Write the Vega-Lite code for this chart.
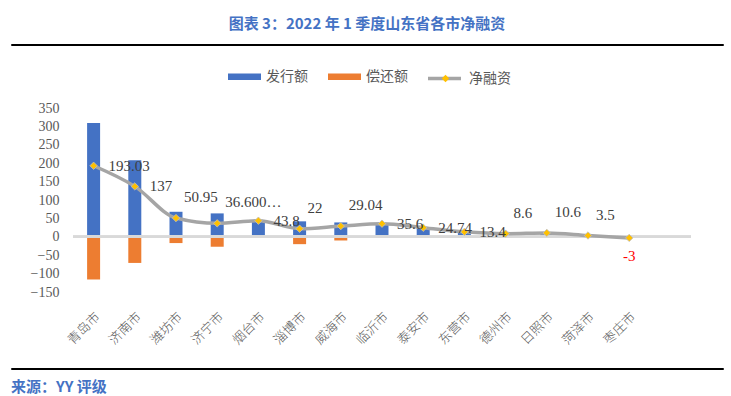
{
  "$schema": "https://vega.github.io/schema/vega-lite/v6.json",
  "background": "white",
  "padding": {"left": 10, "top": 16, "right": 0, "bottom": 0},
  "config": {"view": {"stroke": null}, "axis": {"labelOverlap": false}, "axisY": {"labelOverlap": false}, "axisQuantitative": {"labelOverlap": false}},
  "spacing": 20,
  "vconcat": [
    {
      "width": 712,
      "height": 1,
      "view": {"stroke": "#000000", "strokeWidth": 1},
      "title": {"text": "图表 3：2022 年 1 季度山东省各市净融资", "font": "Noto Sans CJK SC", "fontSize": 15, "fontWeight": "bold", "color": "#4472C4", "anchor": "middle", "offset": 12},
      "data": {"values": []},
      "mark": "text"
    },
    {
      "spacing": 0,
      "hconcat": [
        {
          "width": 1,
          "height": 1,
          "data": {"values": []},
          "mark": "text"
        },
        {
          "width": 618,
          "height": 184,
          "title": {"text": " ", "fontSize": 10, "offset": 25},
          "data": {"values": [
            {"城市": "青岛市", "发行额": 309.03, "偿还额": -116, "净融资": 193.03, "标签": "193.03"},
            {"城市": "济南市", "发行额": 208, "偿还额": -71, "净融资": 137, "标签": "137"},
            {"城市": "潍坊市", "发行额": 68, "偿还额": -17.05, "净融资": 50.95, "标签": "50.95"},
            {"城市": "济宁市", "发行额": 63.6, "偿还额": -27, "净融资": 36.6, "标签": "36.600…"},
            {"城市": "烟台市", "发行额": 43.8, "偿还额": 0, "净融资": 43.8, "标签": "43.8"},
            {"城市": "淄博市", "发行额": 42, "偿还额": -20, "净融资": 22, "标签": "22"},
            {"城市": "威海市", "发行额": 39.04, "偿还额": -10, "净融资": 29.04, "标签": "29.04"},
            {"城市": "临沂市", "发行额": 37, "偿还额": -1.4, "净融资": 35.6, "标签": "35.6"},
            {"城市": "泰安市", "发行额": 26, "偿还额": -1.26, "净融资": 24.74, "标签": "24.74"},
            {"城市": "东营市", "发行额": 14, "偿还额": -0.6, "净融资": 13.4, "标签": "13.4"},
            {"城市": "德州市", "发行额": 10.6, "偿还额": -2, "净融资": 8.6, "标签": "8.6"},
            {"城市": "日照市", "发行额": 10.6, "偿还额": 0, "净融资": 10.6, "标签": "10.6"},
            {"城市": "菏泽市", "发行额": 3.5, "偿还额": 0, "净融资": 3.5, "标签": "3.5"},
            {"城市": "枣庄市", "发行额": 0, "偿还额": -3, "净融资": -3, "标签": "-3"}
          ]},
          "layer": [
            {
              "transform": [{"fold": ["发行额", "偿还额"], "as": ["类型", "金额"]}],
              "mark": {"type": "bar", "size": 13},
              "encoding": {
                "x": {"field": "城市", "type": "nominal", "sort": null,
                  "scale": {"paddingInner": 0, "paddingOuter": 0.5, "align": 0},
                  "axis": {"title": null, "labelAngle": -45, "domain": false, "ticks": false, "grid": false,
                    "labelFont": "Noto Sans CJK SC", "labelFontSize": 13, "labelFontWeight": 300, "labelColor": "#595959", "labelPadding": 18}},
                "y": {"field": "金额", "type": "quantitative", "stack": null,
                  "scale": {"domain": [-150, 350], "nice": false},
                  "axis": {"title": null, "values": [-150, -100, -50, 0, 50, 100, 150, 200, 250, 300, 350],
                    "domain": false, "ticks": false, "grid": false, "labelOverlap": false,
                    "labelFont": "Liberation Serif", "labelFontSize": 14, "labelColor": "#595959", "labelPadding": 14,
                    "minExtent": 61, "maxExtent": 61}},
                "color": {"field": "类型", "type": "nominal",
                  "scale": {"domain": ["发行额", "偿还额"], "range": ["#4472C4", "#ED7D31"]},
                  "legend": {"title": null, "orient": "none", "legendX": 217, "legendY": 16, "direction": "horizontal",
                    "symbolType": "M-1,-0.2H1V0.2H-1Z", "symbolSize": 1089, "symbolStrokeWidth": 0,
                    "labelFont": "Noto Sans CJK SC", "labelFontSize": 14, "labelColor": "#595959",
                    "labelOffset": 5, "columnPadding": 20, "padding": 0}}
              }
            },
            {
              "mark": {"type": "rule", "color": "#D9D9D9", "strokeWidth": 2},
              "encoding": {
                "y": {"datum": 0, "type": "quantitative",
                  "scale": {"domain": [-150, 350], "nice": false},
                  "axis": {"title": null, "values": [-150, -100, -50, 0, 50, 100, 150, 200, 250, 300, 350],
                    "domain": false, "ticks": false, "grid": false, "labelOverlap": false,
                    "labelFont": "Liberation Serif", "labelFontSize": 14, "labelColor": "#595959", "labelPadding": 14,
                    "minExtent": 61, "maxExtent": 61}}
              }
            },
            {
              "mark": {"type": "line", "strokeWidth": 3.5, "interpolate": "monotone"},
              "encoding": {
                "x": {"field": "城市", "type": "nominal", "sort": null},
                "y": {"field": "净融资", "type": "quantitative",
                  "scale": {"domain": [-150, 350], "nice": false},
                  "axis": {"title": null, "values": [-150, -100, -50, 0, 50, 100, 150, 200, 250, 300, 350],
                    "domain": false, "ticks": false, "grid": false, "labelOverlap": false,
                    "labelFont": "Liberation Serif", "labelFontSize": 14, "labelColor": "#595959", "labelPadding": 14,
                    "minExtent": 61, "maxExtent": 61}},
                "stroke": {"datum": "净融资", "type": "nominal",
                  "scale": {"domain": ["净融资"], "range": ["#A5A5A5"]},
                  "legend": {"title": null, "orient": "none", "legendX": 415, "legendY": 16,
                    "symbolType": "stroke", "symbolSize": 1089, "symbolStrokeWidth": 3.5, "symbolStrokeColor": "#A5A5A5",
                    "labelFont": "Noto Sans CJK SC", "labelFontSize": 14, "labelColor": "#595959",
                    "labelOffset": 6, "padding": 0}}
              }
            },
            {
              "mark": {"type": "point", "filled": true, "fill": "#FFC000", "stroke": "#BFBFBF", "strokeWidth": 0.8, "opacity": 1, "size": 55},
              "encoding": {
                "x": {"field": "城市", "type": "nominal", "sort": null},
                "y": {"field": "净融资", "type": "quantitative",
                  "scale": {"domain": [-150, 350], "nice": false},
                  "axis": {"title": null, "values": [-150, -100, -50, 0, 50, 100, 150, 200, 250, 300, 350],
                    "domain": false, "ticks": false, "grid": false, "labelOverlap": false,
                    "labelFont": "Liberation Serif", "labelFontSize": 14, "labelColor": "#595959", "labelPadding": 14,
                    "minExtent": 61, "maxExtent": 61}},
                "shape": {"datum": "◆", "type": "nominal",
                  "scale": {"domain": ["◆"], "range": ["diamond"]},
                  "legend": {"title": null, "orient": "none", "legendX": 428, "legendY": 28,
                    "symbolSize": 55, "symbolFillColor": "#FFC000", "symbolStrokeColor": "#BFBFBF", "symbolStrokeWidth": 0.8,
                    "labelFont": "Noto Sans CJK SC", "labelFontSize": 13, "labelOpacity": 0,
                    "labelOffset": 5, "padding": 0}}
              }
            },
            {
              "transform": [{"filter": {"field": "城市", "oneOf": ["青岛市", "济南市", "烟台市", "临沂市", "泰安市", "东营市"]}}],
              "mark": {"type": "text", "align": "left", "baseline": "middle", "dx": 15, "font": "Liberation Serif", "fontSize": 15, "color": "#404040"},
              "encoding": {
                "x": {"field": "城市", "type": "nominal", "sort": null},
                "y": {"field": "净融资", "type": "quantitative",
                  "scale": {"domain": [-150, 350], "nice": false},
                  "axis": {"title": null, "values": [-150, -100, -50, 0, 50, 100, 150, 200, 250, 300, 350],
                    "domain": false, "ticks": false, "grid": false, "labelOverlap": false,
                    "labelFont": "Liberation Serif", "labelFontSize": 14, "labelColor": "#595959", "labelPadding": 14,
                    "minExtent": 61, "maxExtent": 61}},
                "text": {"field": "标签"}
              }
            },
            {
              "transform": [{"filter": {"field": "城市", "oneOf": ["潍坊市", "济宁市", "淄博市", "威海市", "德州市", "日照市", "菏泽市"]}}],
              "mark": {"type": "text", "align": "left", "baseline": "middle", "dx": 8, "dy": -21, "font": "Liberation Serif", "fontSize": 15, "color": "#404040"},
              "encoding": {
                "x": {"field": "城市", "type": "nominal", "sort": null},
                "y": {"field": "净融资", "type": "quantitative",
                  "scale": {"domain": [-150, 350], "nice": false},
                  "axis": {"title": null, "values": [-150, -100, -50, 0, 50, 100, 150, 200, 250, 300, 350],
                    "domain": false, "ticks": false, "grid": false, "labelOverlap": false,
                    "labelFont": "Liberation Serif", "labelFontSize": 14, "labelColor": "#595959", "labelPadding": 14,
                    "minExtent": 61, "maxExtent": 61}},
                "text": {"field": "标签"}
              }
            },
            {
              "transform": [{"filter": "datum['净融资'] < 0"}],
              "mark": {"type": "text", "align": "center", "baseline": "middle", "dy": 18, "font": "Liberation Serif", "fontSize": 15, "color": "#FF0000"},
              "encoding": {
                "x": {"field": "城市", "type": "nominal", "sort": null},
                "y": {"field": "净融资", "type": "quantitative",
                  "scale": {"domain": [-150, 350], "nice": false},
                  "axis": {"title": null, "values": [-150, -100, -50, 0, 50, 100, 150, 200, 250, 300, 350],
                    "domain": false, "ticks": false, "grid": false, "labelOverlap": false,
                    "labelFont": "Liberation Serif", "labelFontSize": 14, "labelColor": "#595959", "labelPadding": 14,
                    "minExtent": 61, "maxExtent": 61}},
                "text": {"field": "标签"}
              }
            }
          ]
        }
      ]
    },
    {
      "width": 712,
      "height": 1,
      "view": {"stroke": "#000000", "strokeWidth": 1},
      "title": {"text": "来源：YY 评级", "orient": "bottom", "anchor": "start", "font": "Noto Sans CJK SC", "fontSize": 15, "fontWeight": "bold", "color": "#4472C4", "offset": 11},
      "data": {"values": []},
      "mark": "text"
    }
  ]
}
